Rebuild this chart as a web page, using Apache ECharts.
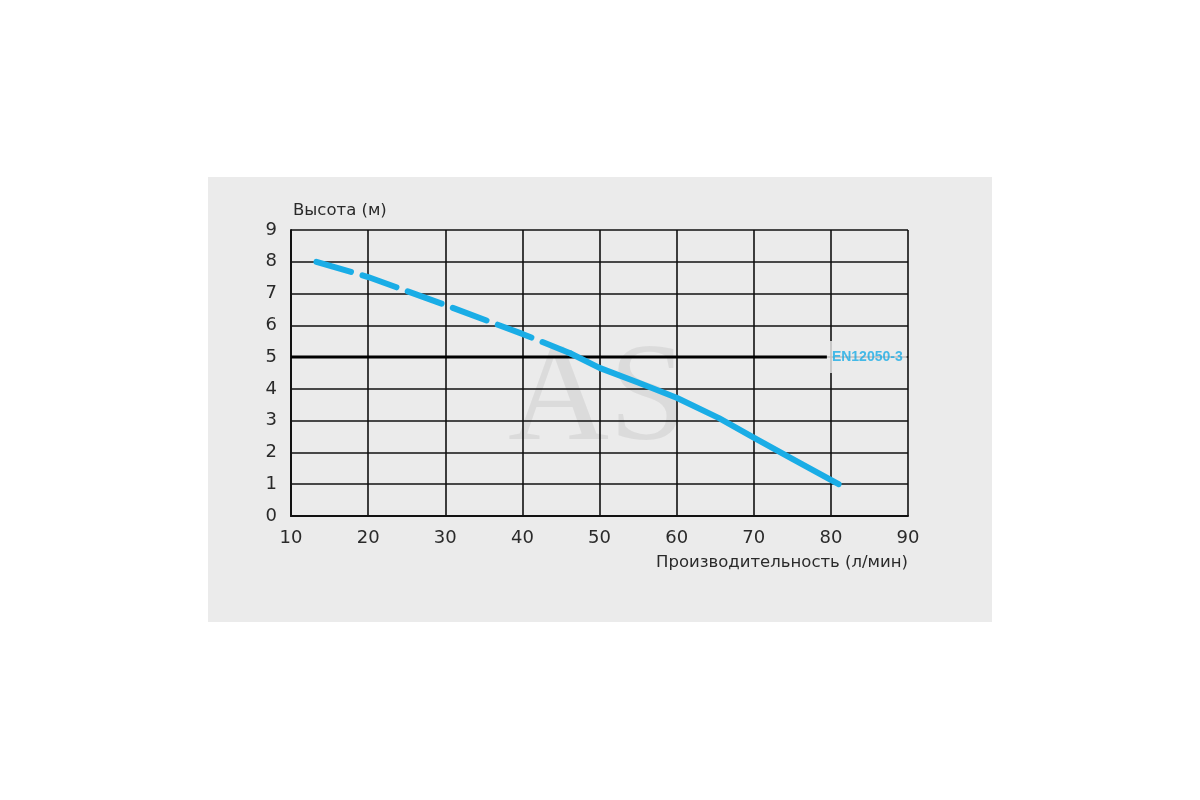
<!DOCTYPE html>
<html>
<head>
<meta charset="utf-8">
<script src="https://cdn.jsdelivr.net/npm/echarts@6/dist/echarts.min.js"></script>
<style>
html,body{margin:0;padding:0;background:#fff;}
#chart{width:1200px;height:800px;}
</style>
</head>
<body>
<div id="chart"></div>
<script>
// Flow (l/min) and head (m)
const xTicks = [10, 20, 30, 40, 50, 60, 70, 80, 90];
const yTicks = [0, 1, 2, 3, 4, 5, 6, 7, 8, 9];
const dashedFlow = [13.3, 20, 30, 40, 46.2];
const dashedHead = [8.0, 7.52, 6.64, 5.73, 5.12];
const solidFlow = [46.2, 50, 55, 60, 65.5, 70, 75, 81];
const solidHead = [5.12, 4.66, 4.2, 3.72, 3.08, 2.47, 1.8, 1.0];
const standardFlow = [10, 79.5];
const standardHead = [5, 5];
const standardLabel = 'EN12050-3';
const yTitle = 'Высота (м)';
const xTitle = 'Производительность (л/мин)';
const watermark = 'AS';

const pair = (xs, ys) => xs.map((x, i) => [x, ys[i]]);
const blue = '#1aade6';
const font = "'DejaVu Sans', 'Noto Sans', sans-serif";
const txt = '#2a2a2a';

const chart = echarts.init(document.getElementById('chart'));
chart.setOption({
  animation: false,
  backgroundColor: '#ffffff',
  graphic: [
    { type: 'rect', z: -10, shape: { x: 208, y: 177, width: 784, height: 445 }, style: { fill: '#ebebeb' } },
    { type: 'text', z: -5, left: 508, top: 332,
      style: { text: watermark, fill: 'rgba(0,0,0,0.065)', font: "140px 'Liberation Serif', 'DejaVu Serif', serif" } }
  ],
  grid: { left: 291, right: 292, top: 230, bottom: 284, containLabel: false },
  xAxis: {
    type: 'value', min: xTicks[0], max: xTicks[xTicks.length - 1], interval: 10,
    name: xTitle, nameLocation: 'end', nameGap: 0,
    nameTextStyle: { align: 'right', verticalAlign: 'top', padding: [38, 0, 0, 0], fontSize: 16.5, color: txt, fontFamily: font },
    axisLine: { show: true, lineStyle: { color: '#111', width: 2 } },
    axisTick: { show: false },
    axisLabel: { margin: 13, fontSize: 18, color: txt, fontFamily: font },
    splitLine: { show: true, lineStyle: { color: '#111', width: 1.6 } }
  },
  yAxis: {
    type: 'value', min: yTicks[0], max: yTicks[yTicks.length - 1], interval: 1,
    name: yTitle, nameLocation: 'end', nameGap: 19,
    nameTextStyle: { align: 'left', verticalAlign: 'middle', padding: [0, 0, 0, 2], fontSize: 16.5, color: txt, fontFamily: font },
    axisLine: { show: true, lineStyle: { color: '#111', width: 2 } },
    axisTick: { show: false },
    axisLabel: { margin: 14, fontSize: 18, color: txt, fontFamily: font },
    splitLine: { show: true, lineStyle: { color: '#111', width: 1.6 } }
  },
  series: [
    {
      type: 'line', data: pair(standardFlow, standardHead), symbol: 'none', z: 3,
      lineStyle: { color: '#000', width: 3 }
    },
    {
      type: 'scatter', data: [[80, 5]], symbolSize: 0, z: 4, silent: true,
      label: {
        show: true, position: 'inside', formatter: standardLabel, align: 'left', offset: [-4, 0],
        color: blue, fontWeight: 'bold', fontSize: 14, textBorderWidth: 0,
        fontFamily: "'Liberation Sans Narrow', 'Liberation Sans', sans-serif",
        backgroundColor: '#ebebeb', padding: [9, 4, 9, 5]
      }
    },
    {
      type: 'line', data: pair(dashedFlow, dashedHead), symbol: 'none', z: 5,
      lineStyle: { color: blue, width: 6, type: [36, 12], cap: 'round' }
    },
    {
      type: 'line', data: pair(solidFlow, solidHead), symbol: 'none', z: 5,
      lineStyle: { color: blue, width: 6, cap: 'round', join: 'round' }
    }
  ]
});
</script>
</body>
</html>
